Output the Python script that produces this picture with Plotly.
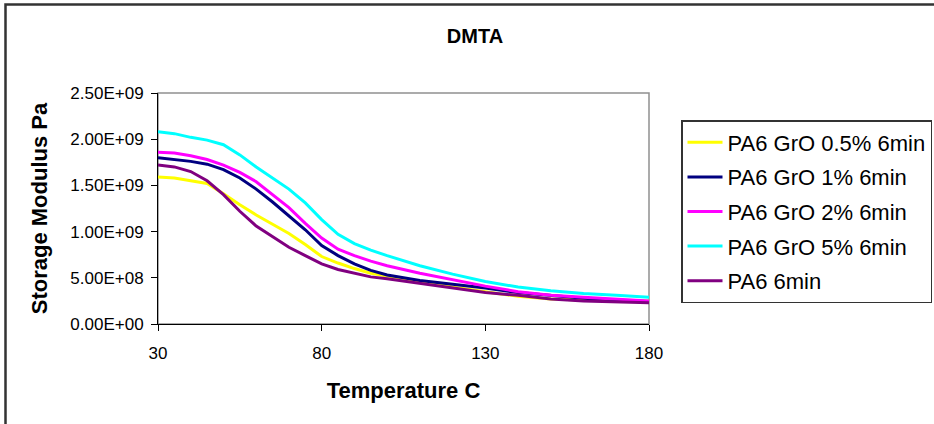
import plotly.graph_objects as go

temperature = [30, 35, 40, 45, 50, 55, 60, 65, 70, 75, 80, 85, 90, 95, 100,
               110, 120, 130, 140, 150, 160, 170, 180]

gro_05 = [1.59, 1.58, 1.55, 1.52, 1.41, 1.29, 1.18, 1.08, 0.98, 0.86, 0.73, 0.66,
          0.60, 0.55, 0.52, 0.46, 0.40, 0.35, 0.30, 0.27, 0.26, 0.26, 0.25]
gro_1 = [1.80, 1.78, 1.76, 1.73, 1.67, 1.58, 1.46, 1.32, 1.17, 1.02, 0.85, 0.74,
         0.65, 0.58, 0.53, 0.47, 0.43, 0.39, 0.34, 0.31, 0.28, 0.26, 0.24]
gro_2 = [1.86, 1.85, 1.82, 1.78, 1.72, 1.64, 1.54, 1.40, 1.26, 1.09, 0.93, 0.81,
         0.74, 0.68, 0.63, 0.55, 0.48, 0.41, 0.35, 0.31, 0.29, 0.27, 0.25]
gro_5 = [2.08, 2.06, 2.02, 1.99, 1.94, 1.83, 1.70, 1.58, 1.46, 1.31, 1.13, 0.97,
         0.87, 0.80, 0.74, 0.63, 0.54, 0.46, 0.40, 0.36, 0.33, 0.31, 0.29]
pa6 = [1.72, 1.70, 1.65, 1.55, 1.40, 1.22, 1.06, 0.94, 0.83, 0.74, 0.65, 0.59,
       0.55, 0.51, 0.49, 0.44, 0.39, 0.34, 0.31, 0.27, 0.25, 0.24, 0.23]

series_names = ["PA6 GrO 0.5% 6min", "PA6 GrO 1% 6min", "PA6 GrO 2% 6min",
                "PA6 GrO 5% 6min", "PA6 6min"]
series_values = [gro_05, gro_1, gro_2, gro_5, pa6]
series_colors = ["#FFFF00", "#000080", "#FF00FF", "#00FFFF", "#800080"]

y_tick_vals = [0, 0.5e9, 1.0e9, 1.5e9, 2.0e9, 2.5e9]
y_tick_text = ["0.00E+00", "5.00E+08", "1.00E+09", "1.50E+09", "2.00E+09", "2.50E+09"]
x_tick_vals = [30, 80, 130, 180]

FONT = "Liberation Sans, Arial, sans-serif"

fig = go.Figure()
for name, vals, col in zip(series_names, series_values, series_colors):
    fig.add_trace(go.Scatter(
        x=temperature, y=[v * 1e9 for v in vals], mode="lines", name=name,
        legendgroup=name, line=dict(color=col, width=3)))

W, H = 934, 424
L, R, T, B = 158, 285, 93, 100
pw, ph = W - L - R, H - T - B

def px_x(p):
    return (p - L) / pw

def px_y(p):
    return (H - B - p) / ph

fig.update_layout(
    width=W, height=H,
    margin=dict(l=L, r=R, t=T, b=B, autoexpand=False),
    paper_bgcolor="white", plot_bgcolor="white",
    font=dict(family=FONT, color="black"),
    title=dict(text="<b>DMTA</b>", x=475 / W, xref="container", xanchor="center",
               y=1 - 36 / H, yref="container", yanchor="middle",
               font=dict(size=20, family=FONT)),
    showlegend=True,
    legend=dict(x=681 / W, y=1 - 120 / H, xref="container", yref="container",
                xanchor="left", yanchor="top",
                font=dict(size=22, family=FONT), bordercolor="#333333",
                borderwidth=1.5, bgcolor="white", itemwidth=35,
                tracegroupgap=3, traceorder="grouped"),
    xaxis=dict(range=[30, 180], tickvals=x_tick_vals, showgrid=False,
               zeroline=False, showline=True, linecolor="black", linewidth=1,
               ticks="outside", ticklen=6, tickcolor="black",
               ticklabelstandoff=8, tickfont=dict(size=17, family=FONT),
               title=dict(text="<b>Temperature C</b>", font=dict(size=22, family=FONT),
                          standoff=20)),
    yaxis=dict(range=[0, 2.5e9], tickvals=y_tick_vals, ticktext=y_tick_text,
               showgrid=False, zeroline=False, showline=True, linecolor="black",
               linewidth=1, ticks="outside", ticklen=6, tickcolor="black",
               ticklabelstandoff=4, tickfont=dict(size=17, family=FONT),
               title=dict(text="<b>Storage Modulus Pa</b>",
                          font=dict(size=22, family=FONT), standoff=16)),
    shapes=[
        dict(type="rect", xref="paper", yref="paper", x0=0, y0=0, x1=1, y1=1,
             line=dict(color="#909090", width=1.5), layer="below"),
        dict(type="rect", xref="paper", yref="paper",
             x0=px_x(5.5), x1=px_x(945), y0=px_y(4.5), y1=px_y(440),
             line=dict(color="#333333", width=2.5), layer="below"),
    ],
)

fig.write_html("out.html")
